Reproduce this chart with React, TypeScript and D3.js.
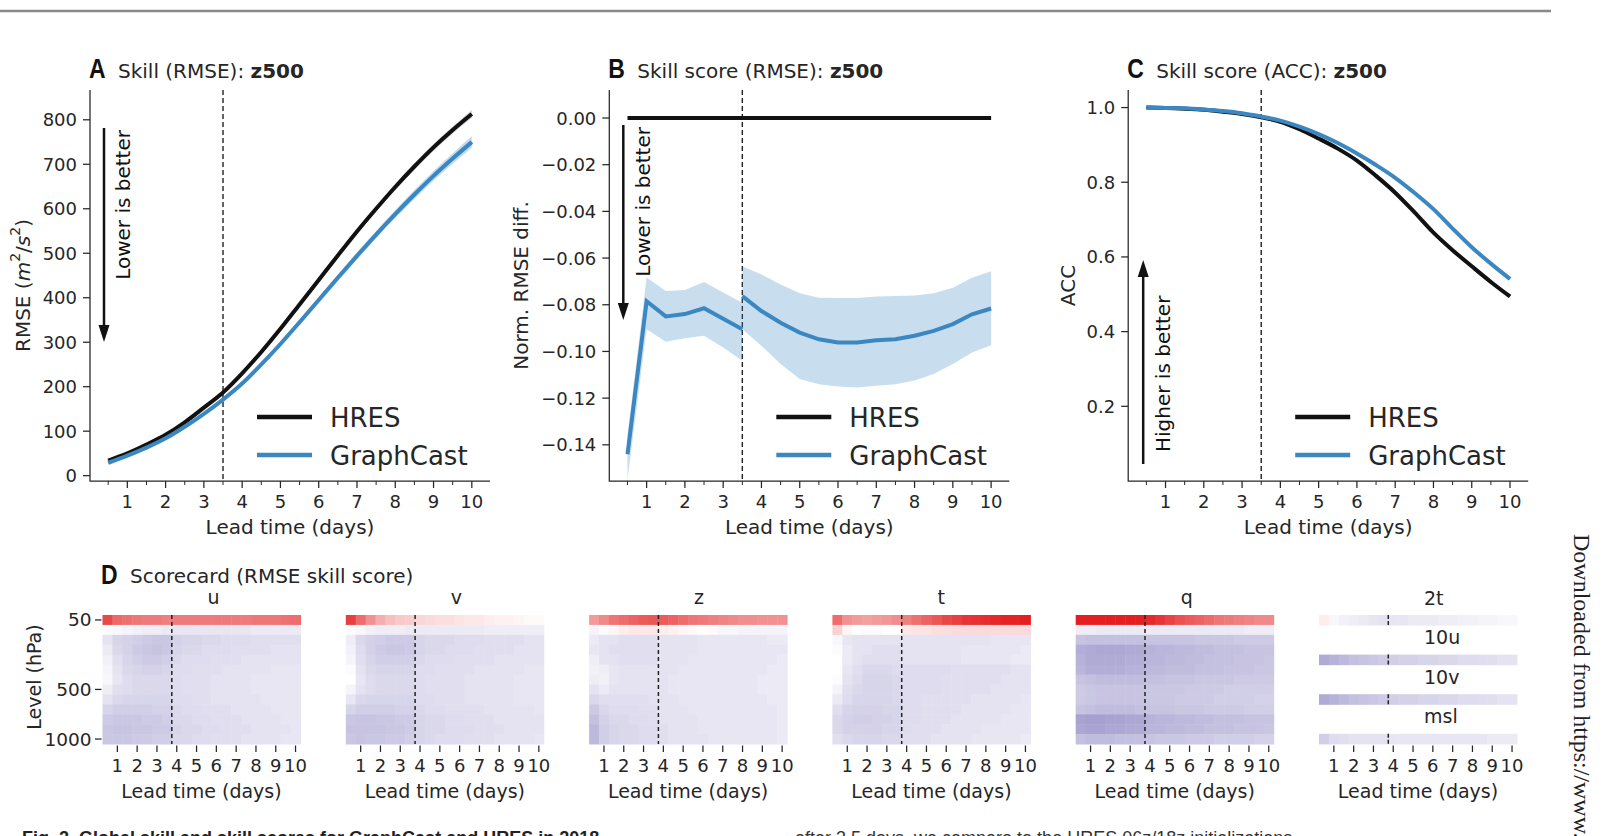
import React, { useEffect, useRef } from "react";
import * as d3 from "d3";

// lead times (days), 12 h steps
const leadDays = [0.5, 1, 1.5, 2, 2.5, 3, 3.5, 4, 4.5, 5, 5.5, 6, 6.5, 7, 7.5, 8, 8.5, 9, 9.5, 10];
const dayTicks = [1, 2, 3, 4, 5, 6, 7, 8, 9, 10];
const halfDayTicks = [0.5, 1.5, 2.5, 3.5, 4.5, 5.5, 6.5, 7.5, 8.5, 9.5];

// panel A: RMSE z500
const hresRmse = [34, 50, 70, 92, 120, 153, 187, 230, 278, 330, 385, 440, 495, 549, 600, 649, 695, 738, 777, 813];
const hresRmseSpread = [2, 2, 2, 3, 3, 3, 4, 4, 4, 5, 5, 5, 6, 6, 6, 7, 7, 8, 8, 9];
const gcRmse = [29, 45, 63, 84, 110, 139, 171, 207, 250, 296, 345, 395, 445, 494, 542, 588, 632, 674, 713, 750];
const gcRmseSpread = [2, 2, 2, 3, 3, 3, 4, 4, 5, 5, 6, 6, 7, 8, 8, 9, 10, 11, 12, 13];
const rmseTicks = [0, 100, 200, 300, 400, 500, 600, 700, 800];

// panel B: normalized RMSE difference (two windows split at 3.5 d)
const hresSkill = [0, 0, 0, 0, 0, 0, 0, 0, 0, 0, 0, 0, 0, 0, 0, 0, 0, 0, 0, 0];
const earlyDays = [0.5, 1, 1.5, 2, 2.5, 3, 3.5];
const gcSkillEarly = [-0.144, -0.0785, -0.085, -0.084, -0.0815, -0.086, -0.0905];
const gcSkillEarlyLo = [-0.155, -0.0905, -0.0959, -0.0944, -0.0933, -0.0983, -0.104];
const gcSkillEarlyHi = [-0.136, -0.0683, -0.0741, -0.0737, -0.0703, -0.0748, -0.0791];
const lateDays = [3.5, 4, 4.5, 5, 5.5, 6, 6.5, 7, 7.5, 8, 8.5, 9, 9.5, 10];
const gcSkillLate = [-0.0763, -0.0827, -0.0877, -0.0919, -0.0948, -0.0962, -0.0962, -0.0952, -0.0948, -0.0933, -0.0912, -0.0883, -0.0841, -0.0816];
const gcSkillLateLo = [-0.0905, -0.0976, -0.1054, -0.1118, -0.114, -0.115, -0.1154, -0.1147, -0.114, -0.1125, -0.1097, -0.1054, -0.1004, -0.0973];
const gcSkillLateHi = [-0.0635, -0.067, -0.0713, -0.0751, -0.077, -0.0771, -0.0771, -0.0765, -0.0763, -0.076, -0.0751, -0.0727, -0.0684, -0.0656];
const skillTicks = [0, -0.02, -0.04, -0.06, -0.08, -0.1, -0.12, -0.14];

// panel C: ACC z500
const hresAcc = [1.0, 0.999, 0.997, 0.994, 0.989, 0.983, 0.974, 0.962, 0.942, 0.917, 0.89, 0.858, 0.817, 0.772, 0.72, 0.665, 0.618, 0.575, 0.533, 0.494];
const gcAcc = [1.0, 0.999, 0.998, 0.995, 0.991, 0.985, 0.976, 0.965, 0.949, 0.929, 0.905, 0.877, 0.846, 0.812, 0.772, 0.728, 0.676, 0.626, 0.582, 0.541];
const accTicks = [0.2, 0.4, 0.6, 0.8, 1.0];

// panel D: scorecard, normalized RMSE difference in %
const pressureLevels = [50, 100, 150, 200, 250, 300, 400, 500, 600, 700, 850, 925, 1000];
const levelTicks = [50, 500, 1000];
const scorecardVars = ["u", "v", "z", "t", "q"];

const scoreU = [
  [40, 33, 31, 30, 29, 29, 28, 29, 29, 29, 29, 29, 29, 29, 29, 30, 30, 30, 31, 32],
  [-1, -2, -3, -4, -5, -5, -6, -7, -7, -7, -7, -7, -7, -7, -7, -6, -6, -6, -6, -6],
  [-8, -12, -13, -14, -15, -16, -16, -13, -12, -12, -11, -11, -10, -10, -10, -9, -9, -9, -9, -9],
  [-6, -11, -13, -15, -16, -17, -16, -12, -11, -11, -10, -10, -10, -9, -9, -9, -9, -8, -8, -8],
  [-4, -9, -12, -14, -15, -15, -14, -11, -10, -10, -10, -9, -9, -9, -8, -8, -8, -8, -8, -8],
  [-3, -8, -11, -12, -13, -13, -12, -10, -10, -9, -9, -9, -8, -8, -8, -8, -8, -7, -7, -7],
  [-2, -7, -10, -11, -11, -11, -11, -10, -9, -9, -9, -8, -8, -8, -8, -7, -7, -7, -7, -7],
  [-5, -9, -10, -11, -11, -11, -11, -10, -9, -9, -9, -8, -8, -8, -8, -7, -7, -7, -7, -7],
  [-8, -11, -12, -12, -12, -12, -12, -10, -10, -9, -9, -8, -8, -8, -8, -8, -7, -7, -7, -7],
  [-12, -14, -14, -14, -14, -13, -13, -11, -10, -10, -9, -9, -9, -8, -8, -8, -8, -7, -7, -7],
  [-15, -16, -16, -16, -15, -15, -14, -11, -11, -10, -10, -9, -9, -9, -8, -8, -8, -8, -7, -7],
  [-16, -17, -17, -16, -16, -15, -15, -12, -11, -11, -10, -10, -9, -9, -9, -8, -8, -8, -8, -7],
  [-16, -16, -16, -15, -15, -14, -14, -11, -11, -10, -10, -9, -9, -9, -8, -8, -8, -8, -7, -7],
];
const scoreV = [
  [42, 32, 24, 18, 14, 12, 11, 9, 8, 7, 7, 6, 5, 5, 4, 3, 3, 2, 1, 1],
  [-1, -2, -4, -5, -5, -5, -6, -6, -6, -6, -6, -6, -6, -6, -5, -5, -5, -5, -5, -5],
  [-5, -11, -13, -14, -15, -15, -15, -12, -11, -11, -11, -10, -10, -10, -9, -9, -9, -9, -8, -8],
  [-4, -10, -13, -15, -16, -16, -15, -12, -11, -11, -10, -10, -10, -9, -9, -9, -9, -8, -8, -8],
  [-3, -9, -12, -14, -14, -14, -14, -11, -10, -10, -10, -9, -9, -9, -9, -8, -8, -8, -8, -8],
  [-1, -8, -11, -12, -12, -12, -12, -10, -10, -9, -9, -9, -9, -8, -8, -8, -8, -8, -7, -7],
  [0, -7, -10, -11, -11, -11, -11, -10, -9, -9, -9, -9, -8, -8, -8, -8, -8, -7, -7, -7],
  [-3, -8, -10, -11, -11, -11, -11, -10, -9, -9, -9, -9, -8, -8, -8, -8, -8, -7, -7, -7],
  [-7, -11, -12, -12, -12, -12, -12, -10, -10, -9, -9, -9, -8, -8, -8, -8, -8, -7, -7, -7],
  [-12, -14, -14, -14, -14, -13, -13, -11, -10, -10, -9, -9, -9, -9, -8, -8, -8, -8, -8, -7],
  [-16, -17, -17, -16, -16, -15, -15, -12, -11, -11, -10, -10, -9, -9, -9, -8, -8, -8, -8, -8],
  [-17, -17, -17, -17, -16, -16, -15, -12, -11, -11, -10, -10, -10, -9, -9, -9, -8, -8, -8, -8],
  [-16, -17, -16, -16, -15, -15, -14, -12, -11, -10, -10, -10, -9, -9, -9, -8, -8, -8, -8, -7],
];
const scoreZ = [
  [22, 26, 30, 32, 34, 36, 37, 36, 34, 32, 30, 29, 28, 27, 26, 25, 25, 24, 24, 24],
  [-3, -1, 2, 4, 5, 5, 5, 4, 3, 2, 1, 0, -1, -2, -2, -3, -3, -3, -3, -3],
  [-6, -8, -8, -9, -9, -9, -9, -8, -8, -8, -8, -7, -7, -7, -7, -7, -7, -7, -6, -6],
  [-7, -8, -9, -9, -9, -9, -9, -8, -8, -8, -8, -7, -7, -7, -7, -7, -7, -7, -7, -7],
  [-5, -8, -8, -9, -9, -9, -9, -8, -8, -8, -7, -7, -7, -7, -7, -7, -7, -7, -7, -6],
  [-4, -5, -7, -8, -8, -8, -8, -8, -8, -7, -7, -7, -7, -7, -7, -7, -7, -7, -6, -6],
  [-5, -4, -7, -8, -8, -8, -8, -8, -7, -7, -7, -7, -7, -7, -7, -7, -7, -6, -6, -6],
  [-8, -6, -8, -8, -8, -8, -8, -8, -7, -7, -7, -7, -7, -7, -7, -7, -7, -6, -6, -6],
  [-11, -9, -9, -9, -9, -9, -8, -8, -8, -7, -7, -7, -7, -7, -7, -7, -7, -7, -6, -6],
  [-15, -11, -10, -10, -10, -9, -9, -8, -8, -8, -7, -7, -7, -7, -7, -7, -7, -7, -7, -6],
  [-18, -13, -11, -11, -10, -10, -9, -8, -8, -8, -8, -7, -7, -7, -7, -7, -7, -7, -7, -6],
  [-20, -14, -12, -11, -11, -10, -10, -9, -8, -8, -8, -7, -7, -7, -7, -7, -7, -7, -7, -6],
  [-20, -14, -12, -11, -11, -10, -10, -9, -8, -8, -8, -8, -7, -7, -7, -7, -7, -7, -7, -6],
];
const scoreT = [
  [32, 24, 22, 21, 22, 23, 25, 28, 31, 34, 37, 40, 42, 44, 45, 46, 47, 48, 48, 49],
  [10, 2, 0, -1, -1, 0, 0, 5, 6, 6, 7, 7, 8, 8, 8, 8, 8, 8, 8, 8],
  [-2, -7, -8, -8, -8, -8, -8, -8, -8, -8, -8, -8, -8, -8, -8, -8, -7, -7, -7, -7],
  [-1, -6, -8, -8, -9, -9, -9, -8, -8, -8, -8, -8, -8, -7, -7, -7, -7, -7, -7, -6],
  [0, -6, -8, -9, -9, -9, -9, -8, -8, -8, -8, -8, -8, -7, -7, -7, -7, -7, -6, -6],
  [0, -7, -9, -11, -11, -11, -10, -10, -10, -10, -10, -10, -9, -9, -9, -9, -9, -9, -8, -8],
  [-1, -8, -10, -12, -12, -12, -11, -10, -10, -10, -10, -9, -9, -9, -9, -9, -9, -8, -8, -8],
  [-3, -9, -11, -12, -12, -12, -11, -10, -10, -10, -10, -9, -9, -9, -9, -9, -8, -8, -8, -8],
  [-6, -10, -12, -12, -12, -12, -11, -10, -10, -9, -9, -9, -9, -9, -8, -8, -8, -8, -8, -7],
  [-9, -12, -13, -13, -13, -12, -12, -10, -10, -9, -9, -9, -9, -8, -8, -8, -8, -8, -7, -7],
  [-11, -13, -14, -14, -13, -13, -12, -10, -10, -9, -9, -9, -8, -8, -8, -8, -8, -7, -7, -7],
  [-11, -13, -13, -13, -13, -12, -12, -10, -9, -9, -9, -8, -8, -8, -8, -7, -7, -7, -7, -7],
  [-9, -11, -12, -12, -12, -11, -11, -9, -9, -9, -8, -8, -8, -8, -7, -7, -7, -7, -7, -6],
];
const scoreQ = [
  [49, 49, 49, 49, 49, 49, 49, 47, 44, 41, 38, 36, 34, 32, 30, 29, 28, 27, 26, 26],
  [-5, -5, -6, -6, -6, -6, -6, -6, -6, -6, -6, -6, -6, -6, -6, -6, -6, -5, -5, -5],
  [-17, -18, -18, -18, -18, -18, -18, -17, -17, -17, -17, -17, -16, -16, -16, -16, -15, -15, -15, -15],
  [-23, -24, -25, -25, -25, -24, -24, -22, -21, -21, -20, -20, -19, -19, -18, -18, -18, -17, -17, -17],
  [-22, -24, -24, -24, -24, -23, -23, -21, -21, -20, -20, -19, -19, -18, -18, -18, -17, -17, -17, -16],
  [-21, -23, -23, -23, -23, -22, -22, -20, -20, -19, -19, -19, -18, -18, -18, -17, -17, -17, -16, -16],
  [-17, -18, -19, -19, -19, -19, -19, -18, -18, -17, -17, -17, -16, -16, -16, -16, -15, -15, -15, -15],
  [-15, -16, -17, -17, -17, -17, -17, -16, -16, -16, -16, -15, -15, -15, -15, -14, -14, -14, -14, -14],
  [-15, -16, -17, -17, -17, -17, -17, -16, -16, -16, -15, -15, -15, -15, -14, -14, -14, -14, -13, -13],
  [-17, -18, -19, -19, -19, -19, -18, -17, -17, -17, -16, -16, -16, -15, -15, -15, -15, -14, -14, -14],
  [-26, -27, -27, -26, -26, -25, -25, -22, -21, -21, -20, -20, -19, -19, -18, -18, -18, -17, -17, -17],
  [-25, -26, -26, -25, -25, -24, -24, -21, -21, -20, -20, -19, -19, -18, -18, -18, -17, -17, -17, -16],
  [-18, -19, -19, -19, -18, -18, -18, -17, -16, -16, -16, -15, -15, -15, -14, -14, -14, -14, -13, -13],
];

const surfaceVars = ["2t", "10u", "10v", "msl"];
const score2t = [4, -2, -4, -5, -6, -7, -8, -7, -7, -6, -6, -6, -5, -5, -4, -4, -3, -3, -2, -2];
const score10u = [-24, -22, -20, -18, -17, -16, -15, -14, -13, -13, -12, -12, -11, -11, -10, -10, -9, -9, -8, -8];
const score10v = [-24, -22, -20, -18, -17, -16, -15, -14, -13, -13, -12, -12, -11, -11, -10, -10, -9, -9, -8, -8];
const scoreMsl = [-14, -10, -9, -8, -8, -8, -8, -7, -7, -7, -7, -7, -7, -7, -7, -7, -7, -6, -6, -6];

const INK = "#262626";
const BLUE = "#3a87c2";
const SANS = "DejaVu Sans, sans-serif";
const LETTER = "Liberation Sans Narrow, Liberation Sans, Arial, sans-serif";

const PLOT_TOP = 90;
const PLOT_BOTTOM = 481;
const PLOT_W = 400;

const cellColor = (v: number) =>
  v < 0
    ? d3.interpolateRgb("#ffffff", "#5a4fa8")(Math.min(1, -v / 50))
    : d3.interpolateRgb("#ffffff", "#e41a1c")(Math.min(1, v / 50));

function drawArrow(g: any, x: number, y0: number, y1: number) {
  const dir = Math.sign(y1 - y0);
  const head = 17;
  g.append("line")
    .attr("x1", x).attr("x2", x)
    .attr("y1", y0).attr("y2", y1 - dir * head)
    .attr("stroke", "#111").attr("stroke-width", 2.5);
  g.append("path")
    .attr("d", `M${x - 5.5},${y1 - dir * head}L${x + 5.5},${y1 - dir * head}L${x},${y1}Z`)
    .attr("fill", "#111");
}

function panelLetter(g: any, x: number, y: number, letter: string) {
  g.append("text")
    .attr("transform", `translate(${x},${y}) scale(0.92,1.12)`)
    .attr("font-family", LETTER).attr("font-weight", "bold").attr("font-size", 25)
    .attr("fill", "#111").text(letter);
}

function linePanel(svg: any, left: number, letter: string, title: string, yDomain: number[], yTicks: number[], yFmt: (v: number) => string) {
  const g = svg.append("g");
  const x = d3.scaleLinear().domain([0.025, 10.475]).range([left, left + PLOT_W]);
  const y = d3.scaleLinear().domain(yDomain).range([PLOT_BOTTOM, PLOT_TOP]);

  // title
  panelLetter(g, left - 1, 78, letter);
  const t = g.append("text")
    .attr("x", left + 28).attr("y", 78)
    .attr("font-family", SANS).attr("font-size", 20).attr("fill", INK);
  t.append("tspan").text(title + " ");
  t.append("tspan").attr("font-weight", "bold").text("z500");

  // spines
  g.append("path")
    .attr("d", `M${left},${PLOT_TOP}V${PLOT_BOTTOM}H${left + PLOT_W}`)
    .attr("fill", "none").attr("stroke", INK).attr("stroke-width", 1.25);

  // x ticks
  g.selectAll(".xmaj").data(dayTicks).join("line")
    .attr("x1", (d: number) => x(d)).attr("x2", (d: number) => x(d))
    .attr("y1", PLOT_BOTTOM).attr("y2", PLOT_BOTTOM + 7)
    .attr("stroke", INK).attr("stroke-width", 1.25);
  g.selectAll(".xmin").data(halfDayTicks).join("line")
    .attr("x1", (d: number) => x(d)).attr("x2", (d: number) => x(d))
    .attr("y1", PLOT_BOTTOM).attr("y2", PLOT_BOTTOM + 4)
    .attr("stroke", INK).attr("stroke-width", 1);
  g.selectAll(".xlab").data(dayTicks).join("text")
    .attr("x", (d: number) => x(d)).attr("y", 508)
    .attr("text-anchor", "middle").attr("font-family", SANS).attr("font-size", 18).attr("fill", INK)
    .text((d: number) => d);
  g.append("text")
    .attr("x", left + PLOT_W / 2).attr("y", 534)
    .attr("text-anchor", "middle").attr("font-family", SANS).attr("font-size", 20).attr("fill", INK)
    .text("Lead time (days)");

  // y ticks
  g.selectAll(".ytk").data(yTicks).join("line")
    .attr("x1", left - 7).attr("x2", left)
    .attr("y1", (d: number) => y(d)).attr("y2", (d: number) => y(d))
    .attr("stroke", INK).attr("stroke-width", 1.25);
  g.selectAll(".ylab").data(yTicks).join("text")
    .attr("x", left - 13).attr("y", (d: number) => y(d) + 6.5)
    .attr("text-anchor", "end").attr("font-family", SANS).attr("font-size", 18).attr("fill", INK)
    .text(yFmt);

  // dashed 3.5 day marker
  g.append("line")
    .attr("x1", x(3.5)).attr("x2", x(3.5))
    .attr("y1", PLOT_TOP).attr("y2", PLOT_BOTTOM)
    .attr("stroke", "#222").attr("stroke-width", 1.4).attr("stroke-dasharray", "5,3");

  // legend
  const leg = [
    { name: "HRES", color: "#111", ly: 417 },
    { name: "GraphCast", color: BLUE, ly: 455 },
  ];
  leg.forEach((l) => {
    g.append("line")
      .attr("x1", left + 167).attr("x2", left + 222)
      .attr("y1", l.ly).attr("y2", l.ly)
      .attr("stroke", l.color).attr("stroke-width", 4.5);
    g.append("text")
      .attr("x", left + 240).attr("y", l.ly + 9.5)
      .attr("font-family", SANS).attr("font-size", 26).attr("fill", INK)
      .text(l.name);
  });

  return { g, x, y };
}

function yLabel(g: any, cx: number, cy: number) {
  return g.append("text")
    .attr("transform", `translate(${cx},${cy}) rotate(-90)`)
    .attr("text-anchor", "middle").attr("dominant-baseline", "central")
    .attr("font-family", SANS).attr("font-size", 20).attr("fill", INK);
}

function sideNote(g: any, cx: number, yAnchor: number, anchor: string, label: string) {
  g.append("text")
    .attr("transform", `translate(${cx},${yAnchor}) rotate(-90)`)
    .attr("text-anchor", anchor).attr("dominant-baseline", "central")
    .attr("font-family", SANS).attr("font-size", 20).attr("fill", "#111")
    .text(label);
}

const App = () => {
  const ref = useRef<SVGSVGElement>(null);

  useEffect(() => {
    const svg = d3.select(ref.current);
    svg.selectAll("*").remove();

    svg.append("rect").attr("width", 1619).attr("height", 836).attr("fill", "#fff");

    // page rule at the top
    svg.append("line")
      .attr("x1", 0).attr("x2", 1551).attr("y1", 11).attr("y2", 11)
      .attr("stroke", "#888").attr("stroke-width", 2.5);

    const idx = leadDays.map((_, i) => i);

    // ---------- A ----------
    {
      const { g, x, y } = linePanel(svg, 90, "A", "Skill (RMSE):", [-12, 867], rmseTicks, (d) => String(d));
      const band = (vals: number[], spread: number[]) =>
        d3.area<number>()
          .x((i) => x(leadDays[i]))
          .y0((i) => y(vals[i] - spread[i]))
          .y1((i) => y(vals[i] + spread[i]))
          .curve(d3.curveMonotoneX)(idx);
      const line = (vals: number[]) =>
        d3.line<number>().x((i) => x(leadDays[i])).y((i) => y(vals[i])).curve(d3.curveMonotoneX)(idx);
      g.append("path").attr("d", band(hresRmse, hresRmseSpread)).attr("fill", "#000").attr("fill-opacity", 0.18);
      g.append("path").attr("d", band(gcRmse, gcRmseSpread)).attr("fill", BLUE).attr("fill-opacity", 0.3);
      g.append("path").attr("d", line(hresRmse)).attr("fill", "none").attr("stroke", "#111").attr("stroke-width", 4);
      g.append("path").attr("d", line(gcRmse)).attr("fill", "none").attr("stroke", BLUE).attr("stroke-width", 4);

      drawArrow(g, 104, 128, 342);
      sideNote(g, 123, 130, "end", "Lower is better");

      const lab = yLabel(g, 23, 285.5);
      lab.append("tspan").text("RMSE (");
      lab.append("tspan").attr("font-style", "italic").text("m");
      lab.append("tspan").attr("font-size", 14).attr("dy", -8).text("2");
      lab.append("tspan").attr("dy", 8).text("/");
      lab.append("tspan").attr("font-style", "italic").text("s");
      lab.append("tspan").attr("font-size", 14).attr("dy", -8).text("2");
      lab.append("tspan").attr("dy", 8).text(")");
    }

    // ---------- B ----------
    {
      const fmt = d3.format(".2f");
      const { g, x, y } = linePanel(svg, 609.3, "B", "Skill score (RMSE):", [-0.1555, 0.012], skillTicks, (d) => fmt(d));
      const seg = (days: number[], vals: number[], lo: number[], hi: number[]) => {
        const ii = days.map((_, i) => i);
        g.append("path")
          .attr("d", d3.area<number>().x((i) => x(days[i])).y0((i) => y(lo[i])).y1((i) => y(hi[i]))(ii))
          .attr("fill", BLUE).attr("fill-opacity", 0.28);
        return d3.line<number>().x((i) => x(days[i])).y((i) => y(vals[i]))(ii);
      };
      const early = seg(earlyDays, gcSkillEarly, gcSkillEarlyLo, gcSkillEarlyHi);
      const late = seg(lateDays, gcSkillLate, gcSkillLateLo, gcSkillLateHi);
      g.append("path")
        .attr("d", d3.line<number>().x((i) => x(leadDays[i])).y((i) => y(hresSkill[i]))(idx))
        .attr("fill", "none").attr("stroke", "#111").attr("stroke-width", 4);
      [early, late].forEach((d) =>
        g.append("path").attr("d", d).attr("fill", "none").attr("stroke", BLUE).attr("stroke-width", 4)
      );

      drawArrow(g, 623.3, 125, 320);
      sideNote(g, 643, 127, "end", "Lower is better");
      yLabel(g, 521, 285.5).text("Norm. RMSE diff.");
    }

    // ---------- C ----------
    {
      const fmt = d3.format(".1f");
      const { g, x, y } = linePanel(svg, 1128.2, "C", "Skill score (ACC):", [0, 1.047], accTicks, (d) => fmt(d));
      const line = (vals: number[]) =>
        d3.line<number>().x((i) => x(leadDays[i])).y((i) => y(vals[i])).curve(d3.curveMonotoneX)(idx);
      g.append("path").attr("d", line(hresAcc)).attr("fill", "none").attr("stroke", "#111").attr("stroke-width", 4);
      g.append("path").attr("d", line(gcAcc)).attr("fill", "none").attr("stroke", BLUE).attr("stroke-width", 4);

      drawArrow(g, 1143.2, 464, 260);
      sideNote(g, 1163, 452, "start", "Higher is better");
      yLabel(g, 1068, 285.5).text("ACC");
    }

    // ---------- D ----------
    {
      const g = svg.append("g");
      panelLetter(g, 101, 584, "D");
      g.append("text")
        .attr("x", 130).attr("y", 583)
        .attr("font-family", SANS).attr("font-size", 20).attr("fill", INK)
        .text("Scorecard (RMSE skill score)");

      const HM_TOP = 615;
      const HM_BOTTOM = 744;
      const HM_W = 198;
      const panelLeft = (k: number) => 102.5 + k * 243.3;

      const bottomAxis = (xs: any, left: number) => {
        g.selectAll(null).data(dayTicks).join("line")
          .attr("x1", (d: number) => xs(d)).attr("x2", (d: number) => xs(d))
          .attr("y1", HM_BOTTOM + 1.5).attr("y2", HM_BOTTOM + 8)
          .attr("stroke", INK).attr("stroke-width", 1.25);
        g.selectAll(null).data(dayTicks).join("text")
          .attr("x", (d: number) => xs(d)).attr("y", 772)
          .attr("text-anchor", "middle").attr("font-family", SANS).attr("font-size", 18).attr("fill", INK)
          .text((d: number) => d);
        g.append("text")
          .attr("x", left + HM_W / 2).attr("y", 798)
          .attr("text-anchor", "middle").attr("font-family", SANS).attr("font-size", 19).attr("fill", INK)
          .text("Lead time (days)");
      };

      const rowBand = d3.scaleBand<number>().domain(pressureLevels).range([HM_TOP, HM_BOTTOM]);
      const grids = [scoreU, scoreV, scoreZ, scoreT, scoreQ];

      scorecardVars.forEach((name, k) => {
        const left = panelLeft(k);
        const xs = d3.scaleLinear().domain([0.25, 10.25]).range([left, left + HM_W]);
        const cells: { lev: number; day: number; v: number }[] = [];
        grids[k].forEach((row, r) => row.forEach((v, c) => cells.push({ lev: pressureLevels[r], day: leadDays[c], v })));
        g.append("g").selectAll("rect").data(cells).join("rect")
          .attr("x", (d) => xs(d.day - 0.25))
          .attr("y", (d) => rowBand(d.lev) as number)
          .attr("width", xs(0.75) - xs(0.25) + 0.5)
          .attr("height", rowBand.bandwidth() + 0.5)
          .attr("fill", (d) => cellColor(d.v));
        g.append("line")
          .attr("x1", xs(3.75)).attr("x2", xs(3.75))
          .attr("y1", HM_TOP).attr("y2", HM_BOTTOM)
          .attr("stroke", "#222").attr("stroke-width", 1.5).attr("stroke-dasharray", "4,3");
        g.append("text")
          .attr("x", left + 105).attr("y", 604)
          .attr("font-family", SANS).attr("font-size", 19).attr("fill", INK)
          .text(name);
        bottomAxis(xs, left);

        if (k === 0) {
          const bw = rowBand.bandwidth() / 2;
          g.selectAll(null).data(levelTicks).join("line")
            .attr("x1", left - 7.5).attr("x2", left - 1)
            .attr("y1", (d: number) => (rowBand(d) as number) + bw)
            .attr("y2", (d: number) => (rowBand(d) as number) + bw)
            .attr("stroke", INK).attr("stroke-width", 1.25);
          g.selectAll(null).data(levelTicks).join("text")
            .attr("x", left - 11).attr("y", (d: number) => (rowBand(d) as number) + bw + 6.5)
            .attr("text-anchor", "end").attr("font-family", SANS).attr("font-size", 18.5).attr("fill", INK)
            .text((d: number) => d);
          yLabel(g, 34, 677).attr("font-size", 19).text("Level (hPa)");
        }
      });

      // surface variables: one row each
      const surfGrids = [score2t, score10u, score10v, scoreMsl];
      const left = panelLeft(5);
      const xs = d3.scaleLinear().domain([0.25, 10.25]).range([left, left + HM_W]);
      surfaceVars.forEach((name, j) => {
        const top = HM_TOP + j * 39.6;
        const h = 10.6;
        g.append("g").selectAll("rect").data(surfGrids[j].map((v, c) => ({ day: leadDays[c], v }))).join("rect")
          .attr("x", (d) => xs(d.day - 0.25))
          .attr("y", top)
          .attr("width", xs(0.75) - xs(0.25) + 0.5)
          .attr("height", h)
          .attr("fill", (d) => cellColor(d.v));
        g.append("line")
          .attr("x1", xs(3.75)).attr("x2", xs(3.75))
          .attr("y1", top).attr("y2", top + h)
          .attr("stroke", "#222").attr("stroke-width", 1.5).attr("stroke-dasharray", "4,2");
        g.append("text")
          .attr("x", left + 105).attr("y", top - 10.5)
          .attr("font-family", SANS).attr("font-size", 19).attr("fill", INK)
          .text(name);
      });
      bottomAxis(xs, left);
    }

    // margin note and caption, both cropped by the page edge as in the source
    svg.append("text")
      .attr("transform", "translate(1582,534) rotate(90)")
      .attr("dominant-baseline", "central")
      .attr("font-family", "Liberation Serif, serif").attr("font-size", 24).attr("fill", "#222")
      .text("Downloaded from https://www.science.org");
    svg.append("text")
      .attr("x", 22).attr("y", 844)
      .attr("font-family", "Liberation Sans, Arial, sans-serif").attr("font-weight", "bold").attr("font-size", 18)
      .attr("fill", "#222")
      .text("Fig. 2. Global skill and skill scores for GraphCast and HRES in 2018.");
    svg.append("text")
      .attr("x", 795).attr("y", 844)
      .attr("font-family", "Liberation Sans, Arial, sans-serif").attr("font-size", 18)
      .attr("fill", "#333")
      .text("after 3.5 days, we compare to the HRES 06z/18z initializations");
  }, []);

  return (
    <div>
      <svg ref={ref} width={1619} height={836} style={{ position: "absolute", left: 0, top: 0 }}></svg>
    </div>
  );
};

export default App;
